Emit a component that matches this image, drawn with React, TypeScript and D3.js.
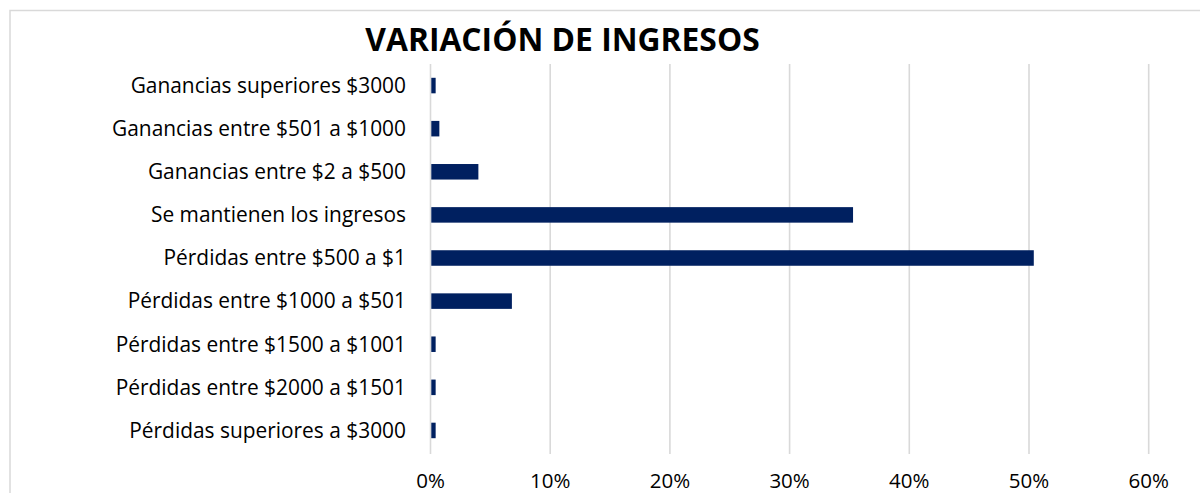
import React from 'react';
import { scaleLinear, scaleBand } from 'd3';

const categories = [
    'Ganancias superiores $3000',
    'Ganancias entre $501 a $1000',
    'Ganancias entre $2 a $500',
    'Se mantienen los ingresos',
    'Pérdidas entre $500 a $1',
    'Pérdidas entre $1000 a $501',
    'Pérdidas entre $1500 a $1001',
    'Pérdidas entre $2000 a $1501',
    'Pérdidas superiores a $3000'
];

const values = [0.0043, 0.0074, 0.04, 0.353, 0.504, 0.068, 0.0043, 0.0043, 0.0043];

const ticks = [0, 0.1, 0.2, 0.3, 0.4, 0.5, 0.6];

const width = 1200;
const height = 493;
const font = '"Open Sans", sans-serif';

export default function App() {
    const x = scaleLinear().domain([0, 0.6]).range([430.5, 1148.7]);
    const y = scaleBand<string>()
        .domain(categories)
        .range([64, 452])
        .paddingInner(0.64)
        .paddingOuter(0.32);

    return (
        <svg width={width} height={height}
            style={{ position: 'absolute', left: 0, top: 0, background: '#fff' }}>
            <rect x={10} y={10.5} width={1200} height={500} fill="#fff" stroke="#d9d9d9" strokeWidth={1.5} />

            <text x={562.5} y={51} textAnchor="middle" fontFamily={font} fontWeight="bold"
                fontSize={31.8} fill="#000">VARIACIÓN DE INGRESOS</text>

            {ticks.map(t => (
                <line key={'g' + t} x1={x(t)} x2={x(t)} y1={64} y2={454}
                    stroke="#d9d9d9" strokeWidth={1.6} />
            ))}

            {categories.map((c, i) => (
                <rect key={c} x={x(0) + 0.8} y={y(c)} width={x(values[i]) - x(0) - 0.8}
                    height={y.bandwidth()} fill="#002060" />
            ))}

            {categories.map(c => (
                <text key={'l' + c} x={406} y={(y(c) as number) + y.bandwidth() / 2}
                    dy="0.35em" textAnchor="end" fontFamily={font} fontSize={20.9} fill="#000">{c}</text>
            ))}

            {ticks.map(t => (
                <text key={'t' + t} x={x(t)} y={488} textAnchor="middle"
                    fontFamily={font} fontSize={20.5} fill="#000">{Math.round(t * 100) + '%'}</text>
            ))}
        </svg>
    );
}
